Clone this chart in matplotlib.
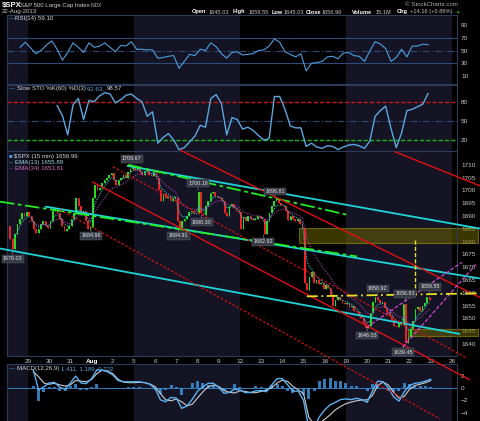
import numpy as np
import pandas as pd
import matplotlib
matplotlib.use("Agg")
import matplotlib.pyplot as plt

W, H, DPI = 480, 421, 100
OUT_PATH = "out.png"

plt.rcParams["font.family"] = ["Liberation Sans", "DejaVu Sans"]

# x unit = trading session, 0 = Jul 29 2013
DATE_LABELS = ["29", "30", "31", "Aug", "2", "5", "6", "7", "8", "9",
               "12", "13", "14", "15", "16", "19", "20", "21", "22", "23", "26"]
FIRST_SESSION = -1  # Jul 26
WEEK_STARTS = [-5, 0, 5, 10, 15, 20, 25]

JUL26 = [1686, 1681, 1677, 1683, 1687, 1689, 1691, 1690, 1691.6]
JUL29 = [1690, 1688, 1685, 1683.5, 1685, 1687, 1688, 1686, 1685.3]
JUL30 = [1688, 1692, 1693, 1691, 1689, 1686, 1684, 1685, 1686.0]
JUL31 = [1689, 1691, 1697, 1694, 1691, 1692, 1688, 1685, 1685.7]
AUG01 = [1697, 1702, 1700, 1701, 1703, 1704, 1705, 1706, 1706.9]
AUG02 = [1704, 1702, 1704, 1705, 1706, 1705, 1707, 1708.5, 1709.7]
AUG05 = [1708, 1709, 1707, 1706, 1707.5, 1708, 1706, 1705.5, 1707.1]
AUG06 = [1705, 1700, 1696, 1698.5, 1697, 1698, 1696, 1697, 1697.4]
AUG07 = [1688, 1685.5, 1688, 1689, 1690, 1691.5, 1692, 1691, 1690.9]
AUG08 = [1699.5, 1691, 1690.5, 1694, 1696, 1699, 1699.5, 1698, 1697.5]
AUG09 = [1697, 1696, 1691, 1690, 1694, 1694.5, 1693, 1692, 1691.4]
AUG12 = [1685, 1689.5, 1688, 1690, 1689, 1688.5, 1689, 1690, 1689.5]
AUG13 = [1689, 1683, 1688, 1691, 1694, 1696, 1696.5, 1695, 1694.2]
AUG14 = [1694, 1692, 1688.5, 1690, 1689, 1688, 1689, 1687, 1685.4]
AUG15 = [1664, 1661, 1666, 1668, 1664, 1665, 1663.5, 1664, 1661.3]
AUG16 = [1663, 1662, 1659, 1655, 1657, 1658.5, 1657, 1656, 1655.8]
AUG19 = [1656, 1654.5, 1655, 1653, 1652.5, 1651, 1650, 1648, 1646.1]
AUG20 = [1647, 1652, 1656.5, 1658.5, 1657, 1656, 1656.5, 1654, 1652.4]
AUG21 = [1651, 1649.5, 1647, 1646.5, 1648, 1647.5, 1655.5, 1640.5, 1642.8]
AUG22 = [1646, 1649, 1653.5, 1654.5, 1653, 1655, 1656, 1658.5, 1657.0]
SESSIONS = [JUL26, JUL29, JUL30, JUL31, AUG01, AUG02, AUG05, AUG06, AUG07, AUG08,
            AUG09, AUG12, AUG13, AUG14, AUG15, AUG16, AUG19, AUG20, AUG21, AUG22]

STEP = 0.25  # indicator samples per quarter session
RSI_START = -0.375
RSI = [55, 63, 54, 45, 50, 59, 65, 52, 35, 47, 62, 55, 47, 62, 55, 57, 62, 55, 48, 58,
       57, 64, 52, 52, 51, 51, 38, 39, 41, 42, 22, 33, 44, 42, 52, 50, 62, 56, 45, 38,
       47, 48, 43, 44, 45, 50, 51, 57, 68, 63, 48, 44, 40, 45, 18, 30, 31, 33, 40, 41,
       37, 46, 47, 42, 41, 33, 49, 64, 60, 53, 33, 39, 52, 40, 57, 57, 60, 59.1]
STO_START = 1.375
STO_K = [74, 58, 28, 75, 85, 52, 82, 80, 89, 94, 92, 78, 83, 90, 92, 85, 80, 57, 64, 15,
         24, 30, 20, 5, 8, 17, 26, 43, 40, 85, 91, 77, 28, 55, 52, 37, 40, 35, 27, 20,
         22, 88, 88, 68, 42, 39, 39, 10, 15, 9, 7, 11, 10, 5, 9, 12, 13, 11, 7, 18,
         57, 66, 73, 38, 8, 31, 66, 68, 72, 76, 92.6]
MACD_START = 0.25
MACD = [2.9, -0.3, 0.2, 0.8, 0.9, 0.1, -0.2, 0.8, 1.9, 0.8, 0.7, 1.5, 2.9, 2.85, 2.6, 2.1,
        1.2, 1.0, 1.0, 1.0, 1.0, 0.85, 0.6, -0.1, -1.9, -2.2, -1.5, -1.6, -3.25, -2.9,
        -1.8, -0.5, 0.2, 0.75, 0.75, 0.1, -0.85, -0.7, -0.2, -0.3, -0.75, -0.7, -0.45,
        -0.4, -0.6, 0.5, 1.5, 1.5, 0.5, -0.5, -0.5, -2.0, -6.4, -6.2, -4.6, -3.5, -2.7,
        -2.3, -1.85, -1.75, -1.85, -1.65, -1.85, -2.3, -0.5, 1.1, 1.0, 0.0, -1.4, -2.1,
        -0.6, 0.4, 0.75, 0.85, 1.1, 1.411]
MACD_SIGNAL = [2.6, 1.8, 0.8, 0.6, 0.75, 0.5, 0.3, 0.5, 1.2, 1.1, 1.0, 1.35, 2.3, 2.85, 2.7,
               2.3, 1.4, 0.95, 0.85, 0.85, 0.9, 0.87, 0.65, 0.2, -0.9, -1.9, -2.05, -1.75,
               -2.2, -2.85, -2.6, -1.6, -0.6, 0.2, 0.45, 0.25, -0.4, -0.7, -0.8, -0.45,
               -0.55, -0.75, -0.75, -0.55, -0.35, 0.05, 0.8, 1.25, 1.05, 0.25, -0.3, -0.9,
               -4.7, -5.8, -5.65, -5.0, -4.3, -3.5, -2.95, -2.5, -2.25, -2.05, -1.92, -1.9,
               -1.2, 0.4, 0.95, 0.5, -0.7, -1.6, -1.35, -0.2, 0.4, 0.6, 0.85, 1.189]

# labelled swing highs / lows
PIVOT_SESSIONS = [4.9, -0.72, 2.97, 7.1, 8.02, 8.2, 11.65, 11.1, 16.5, 16.0, 17.8, 17.7, 18.96]
PIVOT_PRICES = [1709.67, 1676.03, 1684.96, 1684.91, 1700.18, 1690.30, 1696.81, 1682.62,
                1658.92, 1646.03, 1656.83, 1639.45, 1659.55]
PIVOT_IS_HIGH = [True, False, False, False, True, False, True, False, True, False, True, False, True]

# hand-drawn annotations, endpoints as (session, price)
CYAN_LINES = [((4.67, 1709.6), (21.32, 1685.1)),
              ((0.80, 1693.7), (21.32, 1665.6)),
              ((-1.32, 1677.3), (20.38, 1643.9))]
GREEN_LINES = [((-1.32, 1695.6), (15.52, 1674.2)),
               ((4.72, 1710.0), (15.05, 1690.5))]
RED_LINES = [((17.31, 1715.1), (21.32, 1701.8)),
             ((7.17, 1715.8), (21.32, 1658.2)),
             ((3.02, 1703.4), (20.85, 1626.0))]
RED_DOTTED = [((4.01, 1709.2), (20.71, 1634.5)),
              ((1.51, 1692.5), (19.43, 1610.8))]
MAGENTA_LINES = [((15.99, 1646.6), (20.47, 1671.9)),
                 ((17.69, 1638.8), (21.13, 1671.1))]
YELLOW_LEVEL = ((13.16, 1658.6), (21.32, 1659.8))
YELLOW_TARGET = ((18.25, 1680.8), (18.25, 1658.6))
ZONES = [(12.78, 21.23, 1679.6, 1685.5), (17.92, 21.23, 1643.1, 1645.8)]

NAVY = "#141424"
FRAME = "#2b3a58"
TICK = "#c8c8c8"
XLIM = (-0.99, 20.24)
L_PX, R_PX = 7, 457


def panel(fig, top, bottom, zorder=1):
    return fig.add_axes([L_PX / W, 1 - bottom / H, (R_PX - L_PX) / W, (bottom - top) / H],
                        zorder=zorder)


def style(ax, ylim, yticks):
    ax.set_facecolor("black")
    ax.set_xlim(*XLIM)
    ax.set_ylim(*ylim)
    for a, b in zip(WEEK_STARTS[::2], WEEK_STARTS[1::2]):
        ax.axvspan(a, b, color=NAVY, lw=0, zorder=0)
    ax.yaxis.tick_right()
    ax.set_yticks(yticks)
    ax.tick_params(axis="y", colors=TICK, labelsize=4.6, length=0, pad=3)
    ax.tick_params(axis="x", bottom=False, labelbottom=False)
    for s in ax.spines.values():
        s.set_color(FRAME)
        s.set_linewidth(0.8)


def series_x(start, values):
    return start + STEP * np.arange(len(values))


def legend(ax, y, parts):
    # parts: list of (text, colour) drawn one after another
    x = 0.004
    r = ax.figure.canvas.get_renderer()
    for txt, col in parts:
        t = ax.text(x, y, txt, transform=ax.transAxes, fontsize=4.4, color=col,
                    va="top", ha="left", zorder=8)
        x += t.get_window_extent(renderer=r).width / ax.bbox.width


def seg(ax, line, **kw):
    (x0, y0), (x1, y1) = line
    ax.plot([x0, x1], [y0, y1], clip_on=False, solid_capstyle="butt", **kw)


def main():
    fig = plt.figure(figsize=(W / DPI, H / DPI), dpi=DPI, facecolor="black")

    ax_rsi = panel(fig, 15, 84)
    ax_sto = panel(fig, 85, 151)
    ax_px = panel(fig, 151, 356, zorder=3)
    ax_macd = panel(fig, 364, 440)

    # ---- RSI ----
    style(ax_rsi, (-2.5, 105.7), [10, 30, 50, 70, 90])
    for lvl, ls in [(70, "-"), (30, "-"), (50, (0, (6, 2, 1, 2)))]:
        ax_rsi.axhline(lvl, color="#2f4a78", lw=0.8, ls=ls, zorder=1)
    ax_rsi.plot(series_x(RSI_START, RSI), RSI, color="#4a9fe0", lw=0.8, zorder=3)
    legend(ax_rsi, 0.985, [("\u2014", "#4a9fe0"), ("RSI(14) 59.10", "#d8d8d8")])

    # ---- Slow stochastic ----
    style(ax_sto, (2.8, 106), [20, 50, 80])
    ax_sto.axhline(80, color="#d01818", lw=1.0, ls=(0, (3, 1.5)), zorder=1)
    ax_sto.axhline(20, color="#18b818", lw=1.0, ls=(0, (3, 1.5)), zorder=1)
    ax_sto.axhline(50, color="#2f4a78", lw=0.8, ls=(0, (6, 2, 1, 2)), zorder=1)
    ax_sto.plot(series_x(STO_START, STO_K), STO_K, color="#5aa8e0", lw=1.0, zorder=3)
    legend(ax_sto, 0.985, [("\u2014 ", "#4a9fe0"), ("Slow STO %K(60) %D(3) ", "#d8d8d8"),
                           ("92.63, ", "#5aa8e0"), ("98.57", "#d8d8d8")])

    # ---- Price ----
    style(ax_px, (1635.3, 1715.4), np.arange(1640, 1711, 5))
    xs, closes, widths = [], [], []
    for i, day in enumerate(SESSIONS):
        n = len(day)
        for k, c in enumerate(day):
            xs.append(FIRST_SESSION + i + (k + 0.5) / n)
            closes.append(c)
            widths.append(0.7 / n)
    xs = np.array(xs)
    closes = np.array(closes)
    opens = np.r_[closes[0], closes[:-1]]
    colors = np.where(closes >= opens, "#22dd22", "#ee2222")
    ax_px.bar(xs, closes - opens, bottom=opens, width=widths, color=colors, lw=0, zorder=3)
    ax_px.vlines(xs, opens, closes, colors=colors, lw=0.7, zorder=3)

    per_day = len(SESSIONS[0])
    ema13 = pd.Series(closes).ewm(span=13 * per_day / 26, adjust=False).mean()
    ema34 = pd.Series(closes).ewm(span=34 * per_day / 26, adjust=False).mean()
    ax_px.plot(xs[3:], ema13[3:], color="#35c4cc", lw=0.8, ls=(0, (1, 1.2)), zorder=4)
    ax_px.plot(xs[9:], ema34[9:], color="#a03cb0", lw=0.8, ls=(0, (1, 1.2)), zorder=4)

    for x0, x1, p0, p1 in ZONES:
        poly = ax_px.fill_between([x0, x1], p0, p1, facecolor="#6a6400", edgecolor="#a8a010",
                                  alpha=0.55, lw=0.8, zorder=2)
        poly.set_clip_on(False)

    for ln in CYAN_LINES:
        seg(ax_px, ln, color="#1fd4d8", lw=1.3, zorder=5)
    for ln in GREEN_LINES:
        seg(ax_px, ln, color="#22ee22", lw=1.3, ls=(0, (8, 2, 2, 2)), zorder=5)
    for ln in RED_LINES:
        seg(ax_px, ln, color="#e01010", lw=1.0, zorder=5)
    for ln in RED_DOTTED:
        seg(ax_px, ln, color="#d41010", lw=0.9, ls=(0, (2, 1.5)), zorder=5)
    for ln in MAGENTA_LINES:
        seg(ax_px, ln, color="#d444d4", lw=0.9, ls=(0, (3, 1.5)), zorder=5)
    seg(ax_px, YELLOW_LEVEL, color="#e8e020", lw=1.3, ls=(0, (6, 2, 1, 2)), zorder=5)
    seg(ax_px, YELLOW_TARGET, color="#e8e020", lw=1.0, ls=(0, (3, 1.5)), zorder=5)

    for s, p, hi in zip(PIVOT_SESSIONS, PIVOT_PRICES, PIVOT_IS_HIGH):
        ax_px.annotate(f"{p:.2f}", xy=(s, p), xytext=(0, 5 if hi else -5),
                       textcoords="offset points", ha="center", va="center",
                       fontsize=3.9, color="#e6e6e6", zorder=7,
                       bbox=dict(boxstyle="square,pad=0.25", fc="#353a44", ec="#5c616b", lw=0.3),
                       arrowprops=dict(arrowstyle="-", color="#9a9a9a", lw=0.4,
                                       shrinkA=0, shrinkB=0))

    ax_px.set_xticks(np.arange(len(DATE_LABELS)))
    ax_px.set_xticklabels(DATE_LABELS)
    ax_px.tick_params(axis="x", bottom=True, labelbottom=True, length=0, pad=2,
                      colors=TICK, labelsize=4.6)
    for lab in ax_px.get_xticklabels():
        if lab.get_text() == "Aug":
            lab.set_fontweight("bold")
            lab.set_color("white")

    legend(ax_px, 0.985, [("\u25a0 ", "#4a9fe0"), ("$SPX (15 min) 1656.96", "#d8d8d8")])
    legend(ax_px, 0.956, [("-- ", "#35c4cc"), ("EMA(13) 1655.89", "#9fd8e0")])
    legend(ax_px, 0.927, [("-- ", "#a03cb0"), ("EMA(34) 1653.81", "#d070c8")])

    # ---- MACD ----
    style(ax_macd, (-8.32, 3.84), [-4, -2, 0, 2])
    ax_macd.spines["bottom"].set_visible(False)
    mx = series_x(MACD_START, MACD)
    hist = np.array(MACD) - np.array(MACD_SIGNAL)
    ax_macd.bar(mx, hist, width=0.14, color="#3a8fd8", lw=0, alpha=0.85, zorder=2)
    ax_macd.axhline(0, color="#3a8fd8", lw=0.6, zorder=2)
    ax_macd.plot(mx, MACD_SIGNAL, color="#c8ccd0", lw=0.8, zorder=3)
    ax_macd.plot(mx, MACD, color="#5ab0f0", lw=1.0, zorder=4)
    legend(ax_macd, 0.974, [("\u2014 ", "#4a9fe0"), ("MACD(12,26,9) ", "#d8d8d8"),
                            ("1.411, 1.189, 0.222", "#5aa8e0")])

    # ---- header ----
    def ftext(xp, yp, s, **kw):
        fig.text(xp / W, 1 - yp / H, s, va="center", **kw)

    ftext(2, 5.5, "$SPX", fontsize=5.6, color="white", fontweight="bold")
    ftext(20, 5.5, "S&P 500 Large Cap Index", fontsize=4.3, color="#d0d0d0")
    ftext(91, 5.5, "INDX", fontsize=3.4, color="#c0c0c0")
    ftext(2, 12, "22-Aug-2013", fontsize=4.4, color="#c8c8c8")
    ftext(458, 5, "\u00a9 StockCharts.com", fontsize=4.4, color="#b0b0b0", ha="right")
    header = [(192, "Open", True), (209, "1645.03", False), (233, "High", True),
              (249, "1659.55", False), (272, "Low", True), (284, "1645.03", False),
              (306, "Close", True), (322, "1656.96", False), (352, "Volume", True),
              (376, "15.1M", False), (397, "Chg", True), (410, "+14.16 (+0.86%)", False)]
    for xp, s, bold in header:
        ftext(xp, 12, s, fontsize=4.1, color="white" if bold else "#c8c8c8",
              fontweight="bold" if bold else "normal")
    ftext(455, 12, "\u25b2", fontsize=3.2, color="#22cc22")

    fig.savefig(OUT_PATH, dpi=DPI, facecolor="black")


if __name__ == "__main__":
    main()
